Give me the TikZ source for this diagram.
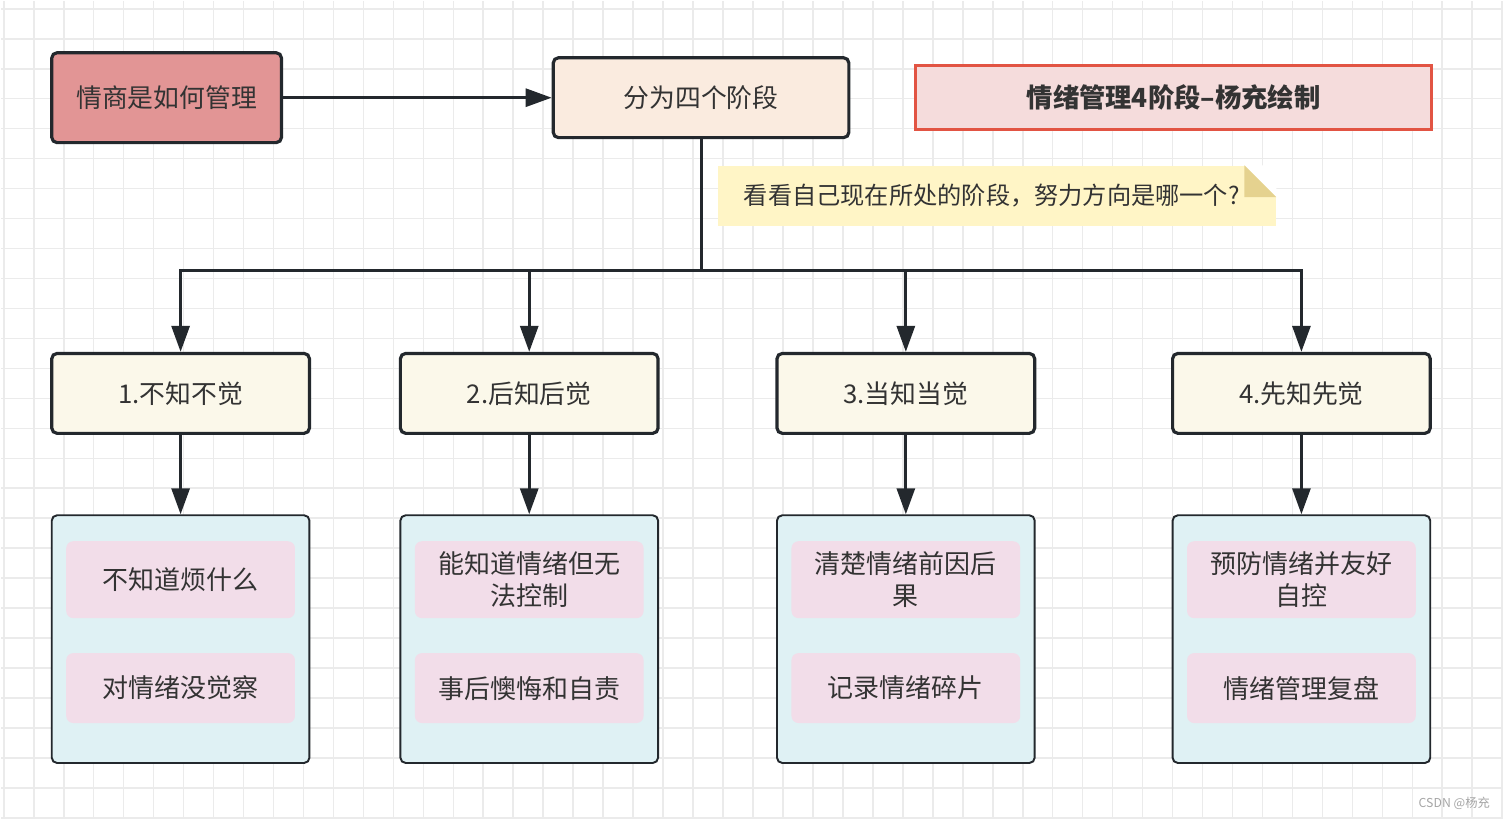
\documentclass[tikz,border=0pt]{standalone}
\usepackage{fontspec}
\newfontfamily\cjk{Noto Sans CJK SC}
\usetikzlibrary{arrows.meta}
\definecolor{inkc}{HTML}{23282D}
\definecolor{textc}{HTML}{333333}
\definecolor{gridc}{HTML}{EBEBEB}
\definecolor{rootc}{HTML}{E29595}
\definecolor{phasec}{HTML}{FAEBDF}
\definecolor{titlec}{HTML}{F5DCDC}
\definecolor{titleline}{HTML}{E25443}
\definecolor{notec}{HTML}{FFF5C6}
\definecolor{foldc}{HTML}{E5D28F}
\definecolor{stagec}{HTML}{FBF8EA}
\definecolor{groupc}{HTML}{DFF1F4}
\definecolor{itemc}{HTML}{F2DDE9}
\begin{document}
\begin{tikzpicture}[x=0.02cm, y=-0.02cm,
    box/.style={draw=inkc, line width=1.8pt, rounded corners=3pt, text=textc,
                font=\cjk\fontsize{14.7}{18}\selectfont, inner sep=0pt},
    stage/.style={box, fill=stagec, minimum width=5.16cm, minimum height=1.6cm},
    group/.style={draw=inkc, line width=1.1pt, rounded corners=3pt, fill=groupc,
                  minimum width=5.16cm, minimum height=4.96cm, inner sep=0pt},
    item/.style={fill=itemc, rounded corners=4pt, text=textc, align=center,
                 font=\cjk\fontsize{14.8}{18.5}\selectfont, minimum width=4.58cm, inner sep=0pt},
    conn/.style={draw=inkc, line width=1.7pt, -{Triangle[length=0.52cm, width=0.36cm]}}]
    % Background and grid
    \fill[white] (0,0) rectangle (1504,818);
    \foreach \gx in {3,33,...,1503}
        \draw[gridc, line width=0.9pt] (\gx,0) -- (\gx,818);
    \foreach \gy in {8,38,...,818}
        \draw[gridc, line width=0.9pt] (0,\gy) -- (1504,\gy);
    \useasboundingbox (0,0) rectangle (1504,818);

    % Top row
    \node[box, fill=rootc, minimum width=4.6cm, minimum height=1.8cm] (root) at (166,97) {情商是如何管理};
    \node[box, fill=phasec, minimum width=5.92cm, minimum height=1.6cm] (phases) at (701,97) {分为四个阶段};
    \node[draw=titleline, line width=1.7pt, fill=titlec, text=textc, minimum width=10.32cm, minimum height=1.28cm,
          font=\cjk\bfseries\fontsize{15}{18}\selectfont] (title) at (1174,97) {情绪管理4阶段–杨充绘制};
    \draw[conn] (root) -- (phases);

    % Note with folded corner
    \node[fill=notec, text=textc, minimum width=11.18cm, minimum height=1.2cm, inner sep=0pt,
          font=\cjk\fontsize{13.8}{16}\selectfont] (note) at (997,195) {\hspace*{-0.2cm}看看自己现在所处的阶段，努力方向是哪一个?};
    \fill[white] ([xshift=-0.64cm]note.north east) -- (note.north east) -- ([yshift=-0.64cm]note.north east) -- cycle;
    \fill[foldc] ([xshift=-0.64cm]note.north east) -- ([xshift=-0.64cm, yshift=-0.64cm]note.north east)
        -- ([yshift=-0.64cm]note.north east) -- cycle;

    % Stages
    \node[stage] (s1) at (180,393) {1.不知不觉};
    \node[stage] (s2) at (529,393) {2.后知后觉};
    \node[stage] (s3) at (906,393) {3.当知当觉};
    \node[stage] (s4) at (1302,393) {4.先知先觉};

    \coordinate (hub) at (701,270);
    \foreach \s in {s1,s2,s3,s4}
        \draw[conn] (phases.south) -- (hub) -| (\s.north);

    % Groups
    \node[group] (g1) at (180,639) {};
    \node[group] (g2) at (529,639) {};
    \node[group] (g3) at (906,639) {};
    \node[group] (g4) at (1302,639) {};
    \foreach \i in {1,2,3,4}
        \draw[conn] (s\i.south) -- (g\i.north);

    \node[item, minimum height=1.54cm] (a1) at (180,579.5) {不知道烦什么};
    \node[item, minimum height=1.4cm] (b1) at (180,688) {对情绪没觉察};
    \node[item, minimum height=1.54cm] (a2) at (529,579.5) {能知道情绪但无\\法控制};
    \node[item, minimum height=1.4cm] (b2) at (529,688) {事后懊悔和自责};
    \node[item, minimum height=1.54cm] (a3) at (906,579.5) {清楚情绪前因后\\果};
    \node[item, minimum height=1.4cm] (b3) at (906,688) {记录情绪碎片};
    \node[item, minimum height=1.54cm] (a4) at (1302,579.5) {预防情绪并友好\\自控};
    \node[item, minimum height=1.4cm] (b4) at (1302,688) {情绪管理复盘};

    % Watermark
    \node[text=gray!70, font=\cjk\fontsize{7}{8}\selectfont] (mark) at (1455,803) {CSDN @杨充};
\end{tikzpicture}
\end{document}
